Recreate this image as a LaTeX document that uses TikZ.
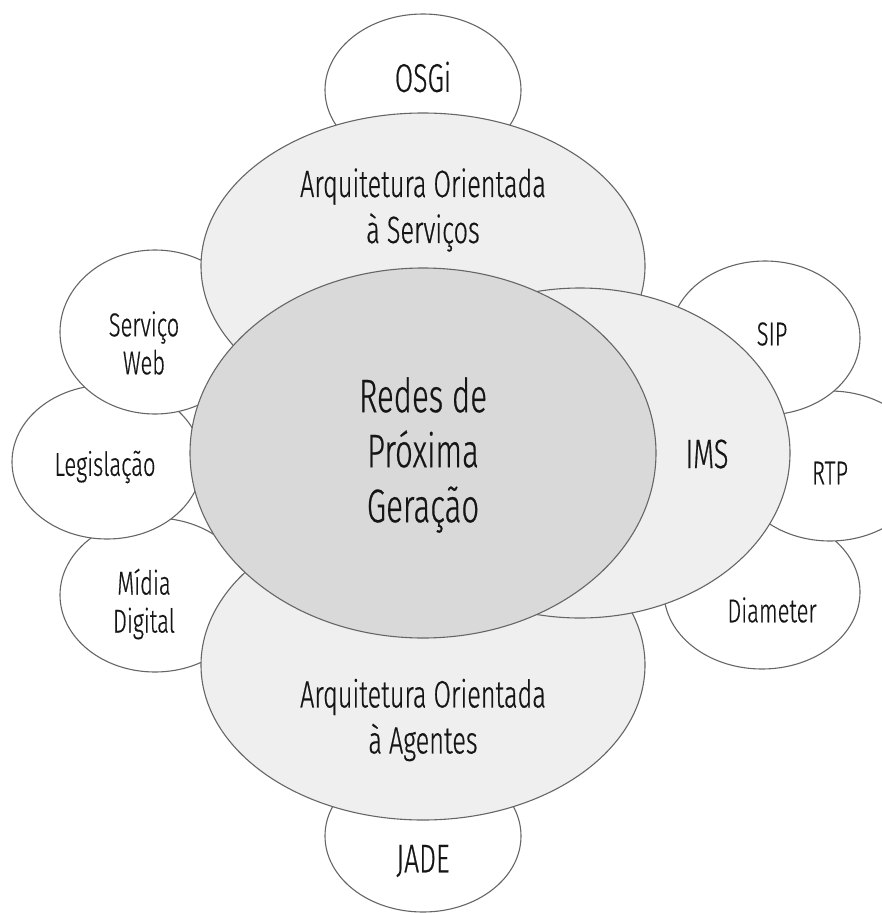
\documentclass[tikz,border=0pt]{standalone}
\usepackage{fontspec}
\setmainfont{Fira Sans Light}[FakeStretch=0.665, FakeBold=0.5]
\usetikzlibrary{shapes.geometric}
\definecolor{edge}{HTML}{666666}
\definecolor{paleshade}{HTML}{EFEFEF}
\definecolor{midshade}{HTML}{D9D9D9}
\definecolor{ink}{HTML}{151515}
\tikzset{
  bubble/.style={ellipse, draw=edge, line width=1.1pt, fill=white, inner sep=0pt},
  areabubble/.style={bubble, fill=paleshade},
  corebubble/.style={bubble, fill=midshade},
  txt/.style={text=ink, align=center, inner sep=0pt},
  small/.style={txt, font=\fontsize{33}{38}\selectfont},
  mid/.style={txt, font=\fontsize{38}{46}\selectfont},
  big/.style={txt, font=\fontsize{47}{55}\selectfont},
}
\begin{document}
\begin{tikzpicture}[x=1pt, y=-1pt]
\useasboundingbox (0,0) rectangle (881,913);
\fill[white] (0,0) rectangle (881,913);

% outer ring of topics (bottom layer)
\node[bubble, minimum width=196pt, minimum height=152pt] (osgi) at (423,90) {};
\node[bubble, minimum width=196pt, minimum height=152pt] (jade) at (423,836) {};
\node[bubble, minimum width=190pt, minimum height=154pt] (midia) at (155,595) {};
\node[bubble, minimum width=190pt, minimum height=154pt] (legis) at (107,462) {};
\node[bubble, minimum width=190pt, minimum height=164pt] (web) at (155,332) {};
\node[bubble, minimum width=196pt, minimum height=154pt] (diam) at (762,592) {};
\node[bubble, minimum width=190pt, minimum height=150pt] (rtp) at (830,466) {};
\node[bubble, minimum width=190pt, minimum height=154pt] (sip) at (765,338) {};

% architecture areas
\node[areabubble, minimum width=444pt, minimum height=306pt] (soa) at (423,266) {};
\node[areabubble, minimum width=444pt, minimum height=310pt] (agents) at (423,665) {};
\node[areabubble, minimum width=420pt, minimum height=330pt] (ims) at (580,453) {};

% core
\node[corebubble, minimum width=466pt, minimum height=370pt] (ngn) at (423,453) {};

% labels
\node[txt, font=\fontsize{40}{46}\selectfont] (tosgi) at (423,77) {OSGi};
\node[txt, font=\fontsize{40}{46}\selectfont] (tjade) at (423,861) {JADE};
\node[small] (tweb) at (144,343) {Serviço\\Web};
\node[small] (tlegis) at (105,467) {Legislação};
\node[small] (tmidia) at (144,604) {Mídia\\Digital};
\node[small] (tsip) at (772,334) {SIP};
\node[small] (trtp) at (830,473) {RTP};
\node[small] (tdiam) at (772,610) {Diameter};
\node[mid] (tsoa) at (423,210) {Arquitetura Orientada\\à Serviços};
\node[mid] (tagents) at (423,720) {Arquitetura Orientada\\à Agentes};
\node[txt, font=\fontsize{41}{46}\selectfont] (tims) at (707,454) {IMS};
\node[big] (tngn) at (423,455) {Redes de\\Próxima\\Geração};
\end{tikzpicture}
\end{document}
